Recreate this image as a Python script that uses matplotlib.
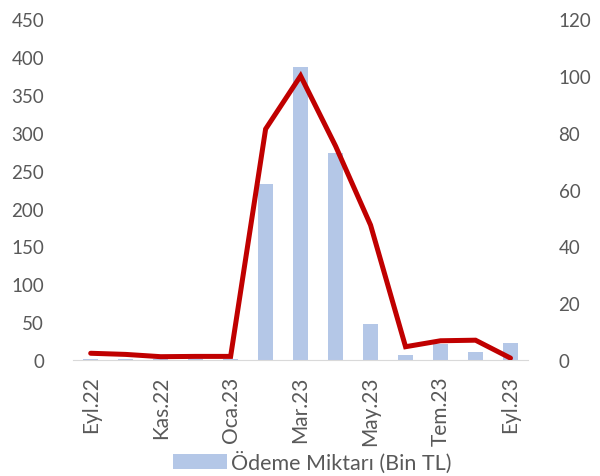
import matplotlib.pyplot as plt
import numpy as np

plt.rcParams['font.family'] = ['Lato', 'DejaVu Sans']

months = ["Eyl.22", "Eki.22", "Kas.22", "Ara.22", "Oca.23", "Şub.23", "Mar.23",
          "Nis.23", "May.23", "Haz.23", "Tem.23", "Ağu.23", "Eyl.23"]
odeme = [1.5, 1.5, 1, 1, 1, 232, 387, 273, 47.5, 6.5, 21, 11, 22]
adet = [2.4, 2.0, 1.2, 1.3, 1.3, 81.3, 100, 75.3, 47.5, 4.7, 6.8, 7.0, 0.7]

x = np.arange(len(months))
txt = "#595959"

fig = plt.figure(figsize=(6, 4.77), dpi=100)
ax = fig.add_axes([0.122, 0.243, 0.758, 0.715])
ax.bar(x, odeme, width=0.44, color="#B4C7E7", label="Ödeme Miktarı (Bin TL)", zorder=2)
ax.set_ylim(0, 450)
ax.set_yticks(range(0, 451, 50))
ax.set_xlim(-0.5, len(months) - 0.5)
ax.set_xticks(x[::2])
ax.set_xticklabels(months[::2], rotation=90)

ax2 = ax.twinx()
ax2.plot(x, adet, color="#C00000", lw=3.6, solid_capstyle="round", solid_joinstyle="miter")
ax2.set_ylim(0, 120)
ax2.set_yticks(range(0, 121, 20))

for a in (ax, ax2):
    for s in a.spines.values():
        s.set_visible(False)
    a.tick_params(length=0, labelsize=13.5, colors=txt)
ax.spines["bottom"].set_visible(True)
ax.spines["bottom"].set_color("#D9D9D9")
ax.tick_params(axis="x", pad=11, labelsize=15)
ax.tick_params(axis="y", pad=21)
ax2.tick_params(axis="y", pad=22)

fig.legend(loc="lower center", bbox_to_anchor=(0.52, -0.035), frameon=False,
           fontsize=15.5, labelcolor=txt, handlelength=2.5, handletextpad=0.2)

fig.savefig("out.png", dpi=100)
